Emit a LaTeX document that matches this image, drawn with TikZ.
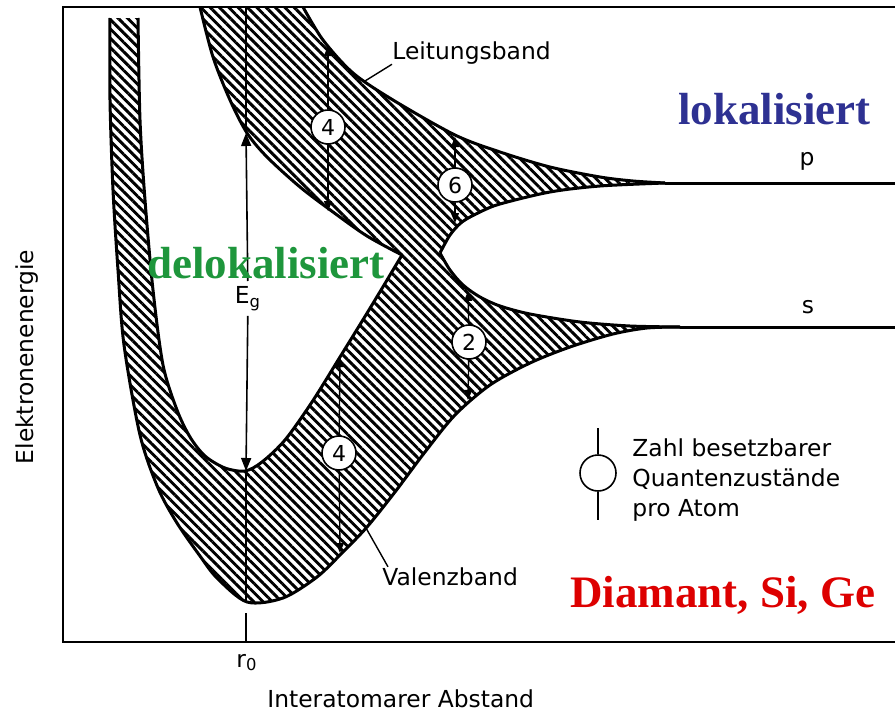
\documentclass[tikz,border=0pt]{standalone}
\usepackage{fontspec}
\setmainfont{Liberation Serif}
\setsansfont{DejaVu Sans}
\usepackage{tikz}
\usetikzlibrary{arrows.meta,patterns.meta}
\definecolor{lokblue}{HTML}{2E3192}
\definecolor{delgreen}{HTML}{1E963C}
\definecolor{matred}{HTML}{DD0000}

\newcommand\condlow{plot[smooth] coordinates {(200,7) (213,57) (230,100) (247,133)
    (267,157) (300,187) (333,212) (367,236) (402,255)}}
\newcommand\valin{-- plot[smooth] coordinates {(402,255) (372,305) (340,357) (312,402)
    (285,440) (262,462) (245,471) (225,468) (205,456) (190,437) (177,410) (163,365)
    (153,290) (145,200) (140,120) (138,18)}}
\newcommand\valout{-- plot[smooth] coordinates {(110,18) (110,100) (113,190) (118,270)
    (124,345) (140,435) (158,488) (177,523) (200,556) (217,578) (247,602) (283,598)
    (317,577) (342,553) (367,527) (395,492) (425,452) (455,415) (490,385) (530,363)
    (570,347) (613,334) (647,328) (680,327)}}
\newcommand\supper{-- plot[smooth] coordinates {(680,327) (630,326) (580,322) (530,314)
    (500,306) (480,297) (463,285) (450,270) (440,253)}}
\newcommand\plower{-- plot[smooth] coordinates {(440,253) (450,235) (462,222) (480,212)
    (500,204) (550,192) (600,186) (665,183)}}
\newcommand\pupper{-- plot[smooth] coordinates {(665,183) (633,181) (600,177) (550,167)
    (500,152) (455,135) (393,100) (353,73) (323,40) (303,7)}}

\tikzset{
  band/.style={line width=1.5pt, line join=round},
  hatch/.style={pattern={Lines[angle=-45, distance=3.3pt, line width=1.45pt]}},
  frame/.style={line width=1.1pt},
  thinline/.style={line width=0.7pt},
  meas/.style={line width=0.7pt, -{Triangle[length=5pt, width=4pt]}},
  egarrow/.style={line width=0.8pt, -{Triangle[length=6.5pt, width=5pt]}},
  count/.style={circle, draw, line width=0.8pt, fill=white, minimum size=17pt,
    inner sep=0pt, font=\sffamily\fontsize{11}{11}\selectfont},
  lbl/.style={font=\sffamily\fontsize{11.7}{15}\selectfont, inner sep=0pt},
  big/.style={font=\bfseries\fontsize{22.5}{24}\selectfont, inner sep=0pt}
}

\begin{document}
\begin{tikzpicture}[x=0.5pt, y=-0.5pt]
    \useasboundingbox (0,0) rectangle (895,712);

    \path[hatch] \condlow \valin \valout \supper \plower \pupper -- cycle;
    \draw[band] \condlow;
    \draw[band] (402,255) \valin;
    \draw[band] (110,18) \valout;
    \draw[band] (680,327) \supper;
    \draw[band] (440,253) \plower;
    \draw[band] (665,183) \pupper;
    \draw[band] (665,183) -- (895,183);
    \draw[band] (680,327) -- (895,327);

    \draw[frame] (895,7) -- (63,7) -- (63,642) -- (895,642);
    \draw[frame] (246,613) -- (246,642);

    \coordinate (r0top) at (246,7);
    \coordinate (egtop) at (246,133);
    \coordinate (egbot) at (246,471);
    \coordinate (r0bot) at (246,602);
    \draw[thinline] (r0top) -- (egtop);
    \draw[thinline] (egbot) -- (r0bot);
    \node[lbl, inner sep=2.5pt, anchor=north] (eg) at (248,281) {E\textsubscript{g}};
    \draw[egarrow] (eg) -- (egtop);
    \draw[egarrow] (eg) -- (egbot);

    \coordinate (m1a) at (328,46);
    \coordinate (m1b) at (328,211);
    \coordinate (m2a) at (455,137);
    \coordinate (m2b) at (455,223);
    \coordinate (m3a) at (468,291);
    \coordinate (m3b) at (468,400);
    \coordinate (m4a) at (340,357);
    \coordinate (m4b) at (340,553);
    \node[count] (n1) at (328,127) {4};
    \node[count] (n2) at (455,185) {6};
    \node[count] (n3) at (469,342) {2};
    \node[count] (n4) at (339,453) {4};
    \draw[meas] (n1) -- (m1a);
    \draw[meas] (n1) -- (m1b);
    \draw[meas] (n2) -- (m2a);
    \draw[meas] (n2) -- (m2b);
    \draw[meas] (n3) -- (m3a);
    \draw[meas] (n3) -- (m3b);
    \draw[meas] (n4) -- (m4a);
    \draw[meas] (n4) -- (m4b);

    \node[lbl, anchor=base west] (leit) at (392,59) {Leitungsband};
    \coordinate (leitpt) at (365,81);
    \draw[thinline] (leit.south west) -- (leitpt);
    \node[lbl, anchor=base west] (val) at (382,585) {Valenzband};
    \coordinate (valpt) at (366,528);
    \draw[thinline] ([xshift=3pt]val.north west) -- (valpt);
    \node[lbl, anchor=base] (plab) at (807,165) {p};
    \node[lbl, anchor=base] (slab) at (808,313) {s};

    \node[count, minimum size=18pt] (legsym) at (598,473) {};
    \coordinate (legtop) at (598,428);
    \coordinate (legbot) at (598,520);
    \draw[thinline] (legsym) -- (legtop);
    \draw[thinline] (legsym) -- (legbot);
    \node[lbl, align=left, anchor=north west] (legtext) at (632,438)
      {Zahl besetzbarer\\Quantenzustände\\pro Atom};

    \node[lbl, rotate=90, anchor=base] (ylab) at (33,357) {Elektronenenergie};
    \node[lbl, anchor=base] (r0) at (247,667) {r\textsubscript{0}};
    \node[lbl, anchor=base west] (xlab) at (267,707) {Interatomarer Abstand};

    \node[big, text=lokblue, anchor=base west] (lok) at (678,124) {lokalisiert};
    \node[big, text=delgreen, anchor=base west] (delok) at (147,278) {delokalisiert};
    \node[big, text=matred, anchor=base west] (mat) at (570,607) {Diamant, Si, Ge};
\end{tikzpicture}
\end{document}
